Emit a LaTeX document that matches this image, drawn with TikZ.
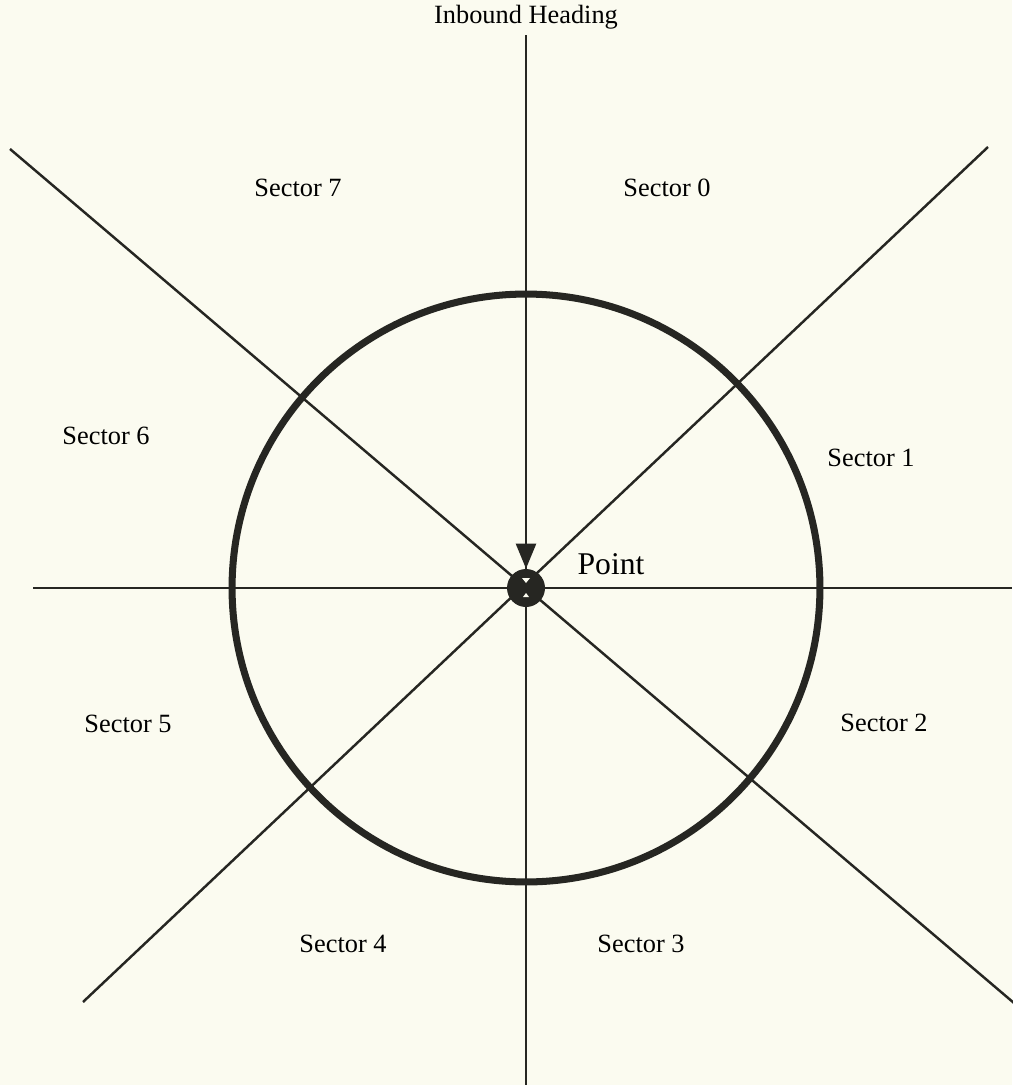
\documentclass[tikz,border=0pt]{standalone}
\usepackage{fontspec}
\setmainfont{Liberation Serif}
\usetikzlibrary{arrows.meta, calc}
\definecolor{paper}{RGB}{251, 251, 240}
\definecolor{ink}{RGB}{38, 38, 34}

\begin{document}
\begin{tikzpicture}[x=0.02cm, y=-0.02cm]

  \pgfmathsetmacro{\cx}{526};
  \pgfmathsetmacro{\cy}{588};

  \fill[paper] (0, 0) rectangle (1012, 1085);
  \useasboundingbox (0, 0) rectangle (1012, 1085);

  \coordinate (centre) at (\cx, \cy);
  \coordinate (top) at (\cx, 35);
  \coordinate (bottom) at (\cx, 1085);
  \coordinate (left) at (33, \cy);
  \coordinate (right) at (1012, \cy);
  \coordinate (upleft) at (10, 149);
  \coordinate (downright) at (1014, 1003);
  \coordinate (upright) at (988, 147);
  \coordinate (downleft) at (83, 1002);
  \coordinate (tail) at (\cx, 538);

  \draw[ink, line width=1.4] (top) -- (bottom);
  \draw[ink, line width=1.4] (left) -- (right);
  \draw[ink, line width=1.4] (upleft) -- (downright);
  \draw[ink, line width=1.4] (upright) -- (downleft);

  \draw[ink, line width=4] (centre) circle [radius=5.88cm];

  \node[circle, fill=ink, inner sep=0, minimum size=0.76cm] (pt) at (centre) {};
  \fill[paper] ($(centre)+(-4,-10)$) -- ($(centre)+(4,-10)$) -- ($(centre)+(0,-5)$) -- cycle;
  \fill[paper] ($(centre)+(-3,9)$) -- ($(centre)+(3,9)$) -- ($(centre)+(0,5)$) -- cycle;

  \draw[ink, line width=1.4, -{Triangle[length=0.5cm, width=0.4cm]}] (tail) -- (pt.north);

  \node[font=\fontsize{15}{18}\selectfont] (heading) at (\cx, 17) {Inbound Heading};
  \node[font=\fontsize{18}{22}\selectfont] (pointlbl) at (611, 564) {Point};

  \node[font=\fontsize{15}{18}\selectfont] (s0) at (667, 188) {Sector 0};
  \node[font=\fontsize{15}{18}\selectfont] (s1) at (871, 458) {Sector 1};
  \node[font=\fontsize{15}{18}\selectfont] (s2) at (884, 723) {Sector 2};
  \node[font=\fontsize{15}{18}\selectfont] (s3) at (641, 944) {Sector 3};
  \node[font=\fontsize{15}{18}\selectfont] (s4) at (343, 944) {Sector 4};
  \node[font=\fontsize{15}{18}\selectfont] (s5) at (128, 724) {Sector 5};
  \node[font=\fontsize{15}{18}\selectfont] (s6) at (106, 436) {Sector 6};
  \node[font=\fontsize{15}{18}\selectfont] (s7) at (298, 188) {Sector 7};

\end{tikzpicture}
\end{document}
